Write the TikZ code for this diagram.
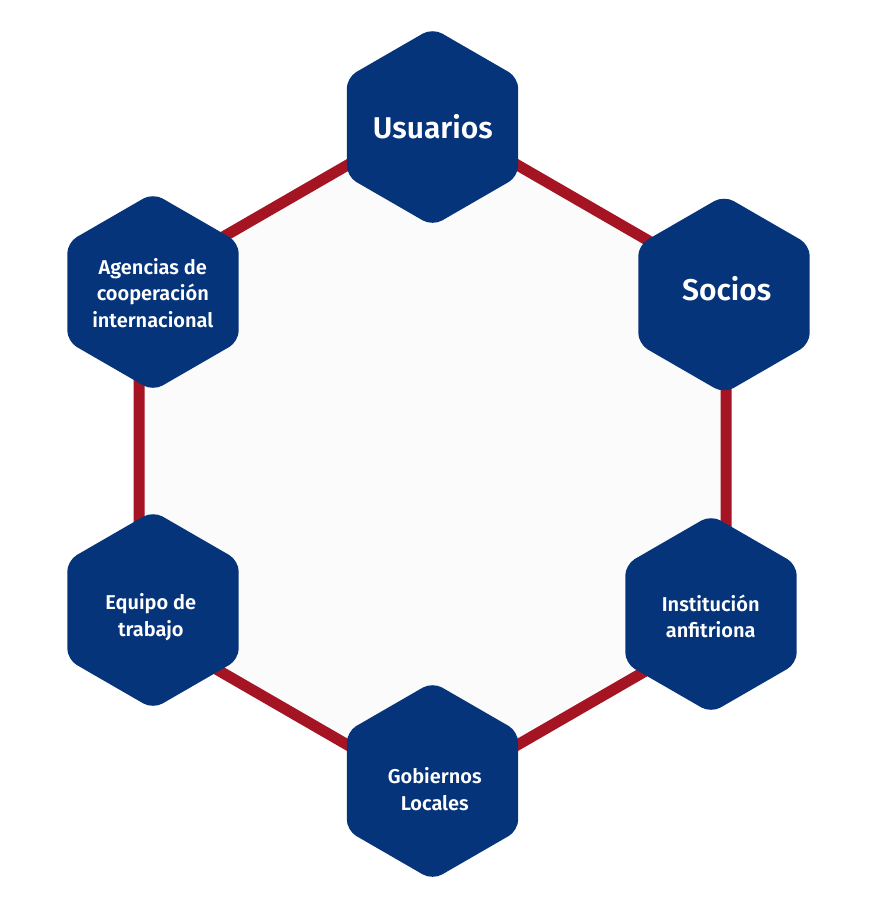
\documentclass[tikz,border=0pt]{standalone}
\usepackage{fontspec}
\IfFontExistsTF{Fira Sans SemiBold}{\newfontfamily\labfont{Fira Sans SemiBold}}{\newfontfamily\labfont{Fira Sans}}
\usetikzlibrary{shapes.geometric}
\definecolor{hexblue}{HTML}{06347A}
\definecolor{linkred}{HTML}{A51422}
\definecolor{innerfill}{HTML}{FBFBFB}
\begin{document}
\begin{tikzpicture}[x=1pt,y=-1pt,
  hexbox/.style={regular polygon, regular polygon sides=6, shape border rotate=30,
    minimum size=198pt, inner sep=0pt, outer sep=0pt, fill=hexblue, rounded corners=11pt},
  lab/.style={text=white, inner sep=0pt, font=\labfont\fontsize{20}{26.5}\selectfont, align=center},
  biglab/.style={text=white, inner sep=0pt, font=\labfont\fontsize{30}{36}\selectfont},
  link/.style={draw=linkred, line width=11pt, fill=innerfill, line join=miter}]
\useasboundingbox (0,0) rectangle (869,900);
% ring of links
\coordinate (v1) at (432.5,116);
\coordinate (v2) at (726,285.5);
\coordinate (v3) at (726,624.5);
\coordinate (v4) at (432.5,794);
\coordinate (v5) at (139,624.5);
\coordinate (v6) at (139,285.5);
\path[link] (v1) -- (v2) -- (v3) -- (v4) -- (v5) -- (v6) -- cycle;
% hexagons
\node[hexbox] (husu) at (432.5,127) {};
\node[hexbox] (hsoc) at (724,294.5) {};
\node[hexbox] (hins) at (711,614) {};
\node[hexbox] (hgob) at (432.5,781) {};
\node[hexbox] (hequ) at (153,610) {};
\node[hexbox] (hage) at (153,292) {};
% labels
\node[biglab] (tusu) at (432.8,127) {Usuarios};
\node[biglab] (tsoc) at (726.7,289) {Socios};
\node[lab] (tins) at (710.7,616.4) {Institución\\anfitriona};
\node[lab] (tgob) at (434.7,789) {Gobiernos\\Locales};
\node[lab] (tequ) at (150.8,617) {Equipo de\\trabajo};
\node[lab] (tage) at (152.8,293) {Agencias de\\cooperación\\internacional};
\end{tikzpicture}
\end{document}
